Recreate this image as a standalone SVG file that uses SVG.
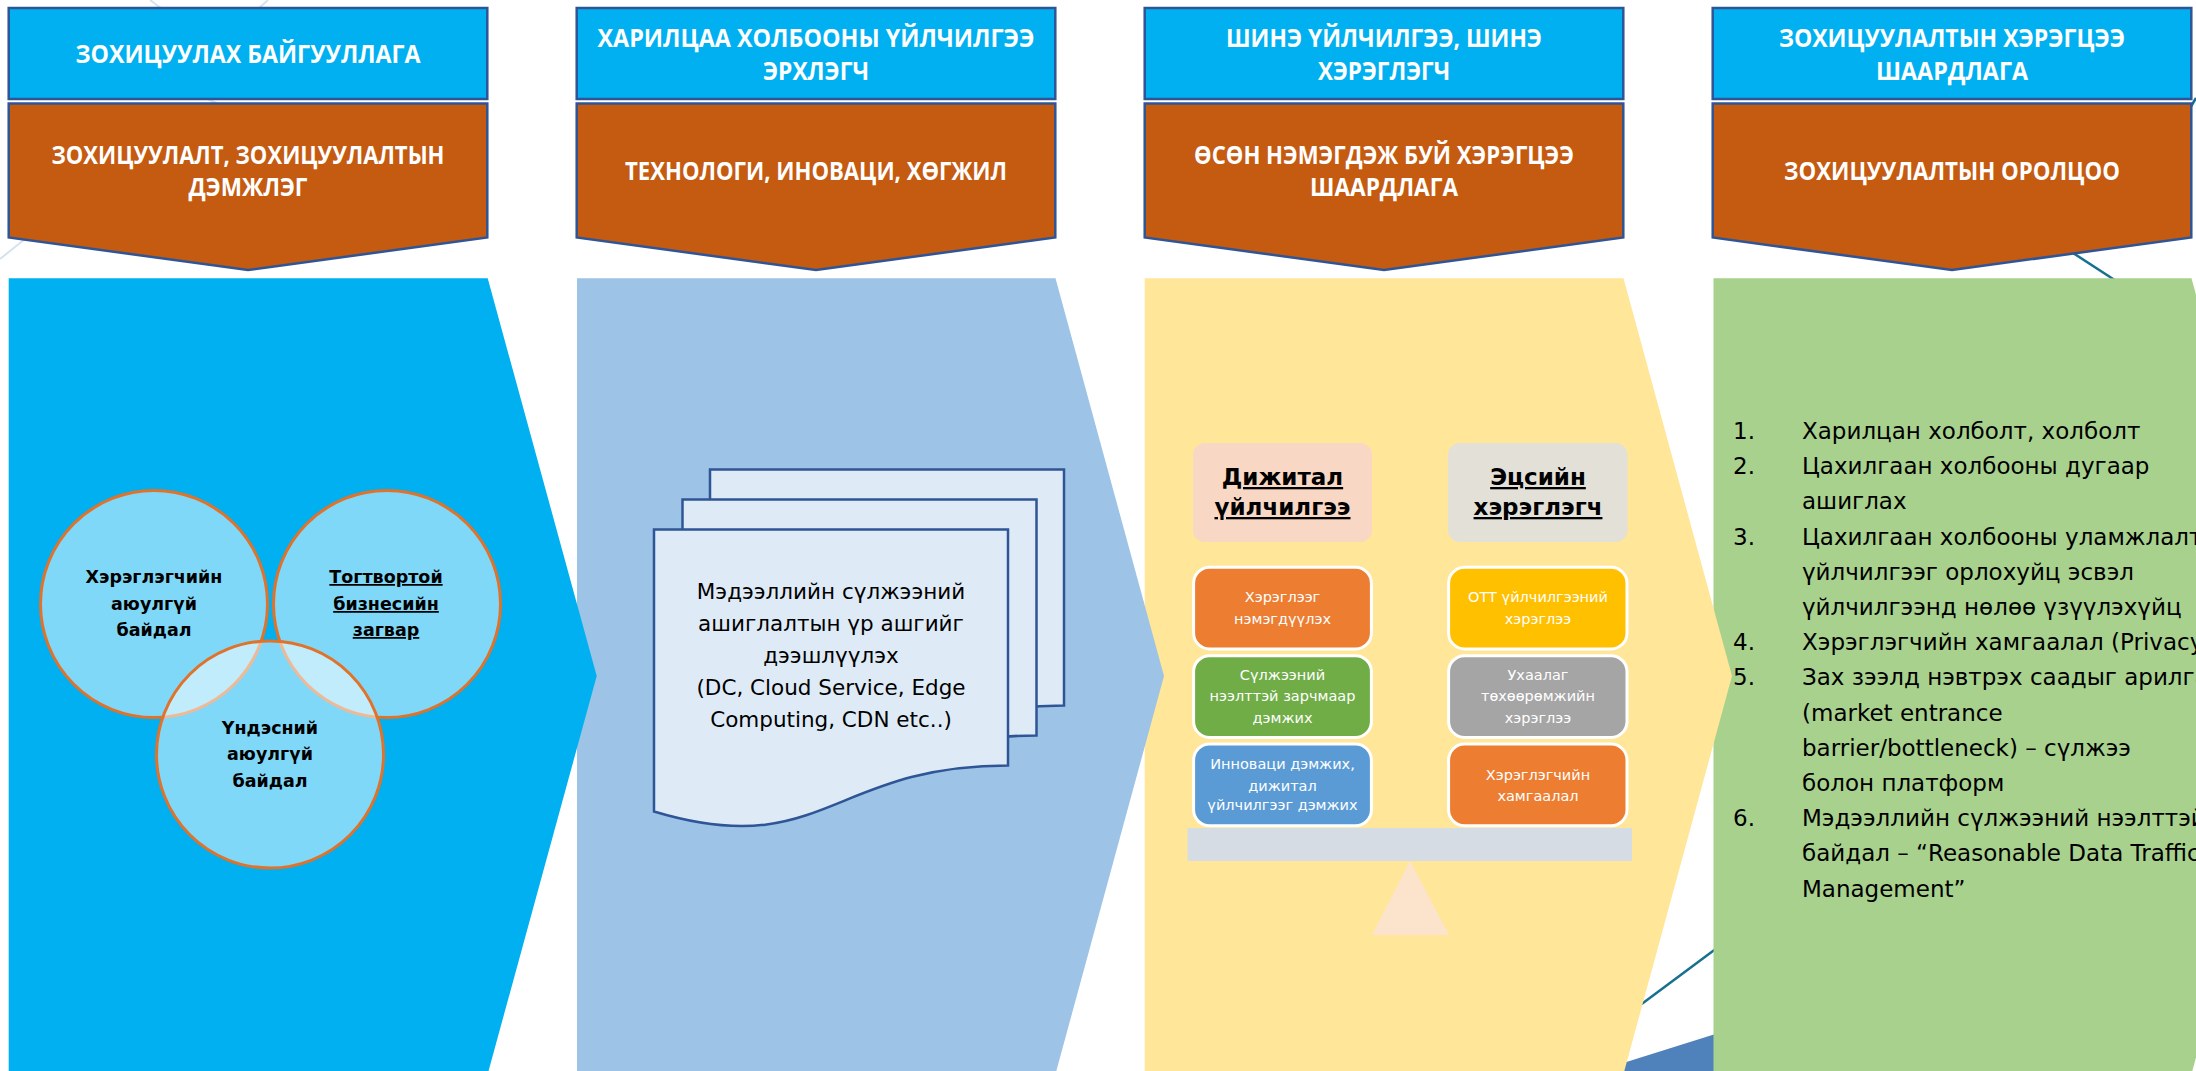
<svg xmlns="http://www.w3.org/2000/svg" xmlns:xlink="http://www.w3.org/1999/xlink" width="2196" height="1071" viewBox="0 0 2196 1071">
<style>
.hdr{fill:#00B0F0;stroke:#2F5597;stroke-width:2.5}
.brn{fill:#C55A11;stroke:#2F5597;stroke-width:2.5}
.ht{font-family:"Open Sans","Liberation Sans",sans-serif;font-weight:700;font-size:25px;fill:#FFFFFF;text-anchor:middle}
.ct{font-family:"DejaVu Sans",sans-serif;font-weight:700;font-size:17.5px;fill:#000000;text-anchor:middle}
.circ{fill:#FFFFFF;fill-opacity:0.5;stroke:#E0722A;stroke-width:3}
.doc{fill:#DEEBF7;stroke:#2F5597;stroke-width:2.5}
.dt{font-family:"DejaVu Sans",sans-serif;font-size:21.5px;fill:#000000;text-anchor:middle}
.tt{font-family:"DejaVu Sans",sans-serif;font-weight:700;font-size:23px;fill:#000000;text-anchor:middle;text-decoration:underline}
.bx{stroke:#FFFFFF;stroke-width:3}
.bt{font-family:"DejaVu Sans",sans-serif;font-size:14.5px;fill:#FFFFFF;text-anchor:middle}
.lt{font-family:"DejaVu Sans",sans-serif;font-size:23px;fill:#000000}
.deco{fill:none;stroke:#D5E3EE;stroke-width:2}
.teal{fill:none;stroke:#17708F;stroke-width:2.5}
</style>
<defs>
<path id="docshape" d="M654,529.5 H1008 V765.5 C831,765.5 822,862 654,811.5 Z"/>
</defs>
<rect x="0" y="0" width="2196" height="1071" fill="#FFFFFF"/>
<g id="background">
<line class="deco" x1="150" y1="0" x2="162" y2="9"/>
<line class="deco" x1="268" y1="0" x2="258" y2="9"/>
<line class="deco" x1="0" y1="259" x2="30" y2="235"/>
<line class="deco" x1="208" y1="99" x2="218" y2="104"/>
<line class="teal" x1="2030" y1="225" x2="2130" y2="290"/>
<line class="teal" x1="2186" y1="115" x2="2196" y2="98"/>
<line class="teal" x1="1600" y1="1035" x2="1760" y2="916"/>
<polygon points="1550,1086 1760,1020 1760,1100 1550,1100" fill="#4F81BA"/>
</g>
<g id="headers">
<g id="header1">
<rect class="hdr" x="8.7" y="8" width="478.6" height="91"/>
<text class="ht" x="248" y="63" textLength="345" lengthAdjust="spacingAndGlyphs">ЗОХИЦУУЛАХ БАЙГУУЛЛАГА</text>
</g>
<g id="header2">
<rect class="hdr" x="576.7" y="8" width="478.6" height="91"/>
<text class="ht" x="816" y="46.5" textLength="437" lengthAdjust="spacingAndGlyphs">ХАРИЛЦАА ХОЛБООНЫ ҮЙЛЧИЛГЭЭ</text>
<text class="ht" x="816" y="80" textLength="106" lengthAdjust="spacingAndGlyphs">ЭРХЛЭГЧ</text>
</g>
<g id="header3">
<rect class="hdr" x="1144.7" y="8" width="478.6" height="91"/>
<text class="ht" x="1384" y="46.5" textLength="316" lengthAdjust="spacingAndGlyphs">ШИНЭ ҮЙЛЧИЛГЭЭ, ШИНЭ</text>
<text class="ht" x="1384" y="80" textLength="132" lengthAdjust="spacingAndGlyphs">ХЭРЭГЛЭГЧ</text>
</g>
<g id="header4">
<rect class="hdr" x="1712.7" y="8" width="478.6" height="91"/>
<text class="ht" x="1952" y="46.5" textLength="346" lengthAdjust="spacingAndGlyphs">ЗОХИЦУУЛАЛТЫН ХЭРЭГЦЭЭ</text>
<text class="ht" x="1952" y="80" textLength="152" lengthAdjust="spacingAndGlyphs">ШААРДЛАГА</text>
</g>
<g id="sub1">
<polygon class="brn" points="8.7,103.5 487.3,103.5 487.3,237.5 248,270 8.7,237.5"/>
<text class="ht" x="248" y="164" textLength="393" lengthAdjust="spacingAndGlyphs">ЗОХИЦУУЛАЛТ, ЗОХИЦУУЛАЛТЫН</text>
<text class="ht" x="248" y="196" textLength="119" lengthAdjust="spacingAndGlyphs">ДЭМЖЛЭГ</text>
</g>
<g id="sub2">
<polygon class="brn" points="576.7,103.5 1055.3,103.5 1055.3,237.5 816,270 576.7,237.5"/>
<text class="ht" x="816" y="180" textLength="382" lengthAdjust="spacingAndGlyphs">ТЕХНОЛОГИ, ИНОВАЦИ, ХӨГЖИЛ</text>
</g>
<g id="sub3">
<polygon class="brn" points="1144.7,103.5 1623.3,103.5 1623.3,237.5 1384,270 1144.7,237.5"/>
<text class="ht" x="1384" y="164" textLength="380" lengthAdjust="spacingAndGlyphs">ӨСӨН НЭМЭГДЭЖ БУЙ ХЭРЭГЦЭЭ</text>
<text class="ht" x="1384" y="196" textLength="148" lengthAdjust="spacingAndGlyphs">ШААРДЛАГА</text>
</g>
<g id="sub4">
<polygon class="brn" points="1712.7,103.5 2191.3,103.5 2191.3,237.5 1952,270 1712.7,237.5"/>
<text class="ht" x="1952" y="180" textLength="336" lengthAdjust="spacingAndGlyphs">ЗОХИЦУУЛАЛТЫН ОРОЛЦОО</text>
</g>
</g>
<g id="panels">
<polygon id="panel4" points="1713.5,278.3 2191.5,278.3 2300,676 2191.5,1074 1713.5,1074" fill="#A9D18E"/>
<polygon id="panel3" points="1144.7,278.3 1623.5,278.3 1732,676 1623.5,1074 1144.7,1074" fill="#FFE699"/>
<polygon id="panel2" points="577,278.3 1055.5,278.3 1164,676 1055.5,1074 577,1074" fill="#9DC3E6"/>
<polygon id="panel1" points="8.7,278.3 487.7,278.3 596.7,676 487.7,1074 8.7,1074" fill="#00B0F0"/>
</g>
<g id="venn">
<g id="circle1">
<circle class="circ" cx="154" cy="604" r="113.5"/>
</g>
<g id="circle2">
<circle class="circ" cx="387" cy="604" r="113.5"/>
</g>
<g id="circle3">
<circle class="circ" cx="270" cy="754.5" r="113.5"/>
</g>
<text class="ct" x="154" y="583">Хэрэглэгчийн</text>
<text class="ct" x="154" y="610">аюулгүй</text>
<text class="ct" x="154" y="636">байдал</text>
<text class="ct" x="386" y="583" text-decoration="underline">Тогтвортой</text>
<text class="ct" x="386" y="610" text-decoration="underline">бизнесийн</text>
<text class="ct" x="386" y="636" text-decoration="underline">загвар</text>
<text class="ct" x="270" y="734">Үндэсний</text>
<text class="ct" x="270" y="760">аюулгүй</text>
<text class="ct" x="270" y="787">байдал</text>
</g>
<g id="document">
<use xlink:href="#docshape" href="#docshape" class="doc" transform="translate(56,-60)"/>
<use xlink:href="#docshape" href="#docshape" class="doc" transform="translate(28.5,-30)"/>
<use xlink:href="#docshape" href="#docshape" class="doc"/>
<text class="dt" x="831" y="599">Мэдээллийн сүлжээний</text>
<text class="dt" x="831" y="631">ашиглалтын үр ашгийг</text>
<text class="dt" x="831" y="663">дээшлүүлэх</text>
<text class="dt" x="831" y="695">(DC, Cloud Service, Edge</text>
<text class="dt" x="831" y="727">Computing, CDN etc..)</text>
</g>
<g id="balance">
<g id="title-left">
<rect x="1193" y="443" width="179" height="99" rx="12" fill="#F8D7C4"/>
<text class="tt" x="1282.5" y="485">Дижитал</text>
<text class="tt" x="1282.5" y="515">үйлчилгээ</text>
</g>
<g id="title-right">
<rect x="1448" y="443" width="179.5" height="99" rx="12" fill="#E3E0D8"/>
<text class="tt" x="1538" y="485">Эцсийн</text>
<text class="tt" x="1538" y="515">хэрэглэгч</text>
</g>
<g id="box-l1">
<rect class="bx" x="1193.6" y="567.3" width="177.8" height="81.7" rx="16" fill="#ED7D31"/>
<text class="bt" x="1282.5" y="602">Хэрэглээг</text>
<text class="bt" x="1282.5" y="624">нэмэгдүүлэх</text>
</g>
<g id="box-l2">
<rect class="bx" x="1193.6" y="655.7" width="177.8" height="81.7" rx="16" fill="#70AD47"/>
<text class="bt" x="1282.5" y="680">Сүлжээний</text>
<text class="bt" x="1282.5" y="701">нээлттэй зарчмаар</text>
<text class="bt" x="1282.5" y="722.5">дэмжих</text>
</g>
<g id="box-l3">
<rect class="bx" x="1193.6" y="744" width="177.8" height="81.8" rx="16" fill="#5B9BD5"/>
<text class="bt" x="1282.5" y="769">Инноваци дэмжих,</text>
<text class="bt" x="1282.5" y="790.5">дижитал</text>
<text class="bt" x="1282.5" y="810">үйлчилгээг дэмжих</text>
</g>
<g id="box-r1">
<rect class="bx" x="1448.6" y="567.3" width="178.4" height="81.7" rx="16" fill="#FFC000"/>
<text class="bt" x="1538" y="602">OTT үйлчилгээний</text>
<text class="bt" x="1538" y="624">хэрэглээ</text>
</g>
<g id="box-r2">
<rect class="bx" x="1448.6" y="655.7" width="178.4" height="81.7" rx="16" fill="#A5A5A5"/>
<text class="bt" x="1538" y="680">Ухаалаг</text>
<text class="bt" x="1538" y="701">төхөөрөмжийн</text>
<text class="bt" x="1538" y="722.5">хэрэглээ</text>
</g>
<g id="box-r3">
<rect class="bx" x="1448.6" y="744" width="178.4" height="81.8" rx="16" fill="#ED7D31"/>
<text class="bt" x="1538" y="779.7">Хэрэглэгчийн</text>
<text class="bt" x="1538" y="800.6">хамгаалал</text>
</g>
<g id="beam">
<rect x="1187.5" y="828" width="444.5" height="33" fill="#D6DCE4"/>
<polygon points="1410,861 1449,935 1372,935" fill="#FCE4CC"/>
</g>
</g>
<g id="list">
<text class="lt" x="1733" y="439">1.</text>
<text class="lt" x="1733" y="474.2">2.</text>
<text class="lt" x="1733" y="544.6">3.</text>
<text class="lt" x="1733" y="650.2">4.</text>
<text class="lt" x="1733" y="685.4">5.</text>
<text class="lt" x="1733" y="826.2">6.</text>
<text class="lt" x="1802" y="439">Харилцан холболт, холболт</text>
<text class="lt" x="1802" y="474.2">Цахилгаан холбооны дугаар</text>
<text class="lt" x="1802" y="509.4">ашиглах</text>
<text class="lt" x="1802" y="544.6">Цахилгаан холбооны уламжлалт</text>
<text class="lt" x="1802" y="579.8">үйлчилгээг орлохуйц эсвэл</text>
<text class="lt" x="1802" y="615">үйлчилгээнд нөлөө үзүүлэхүйц</text>
<text class="lt" x="1802" y="650.2">Хэрэглэгчийн хамгаалал (Privacy)</text>
<text class="lt" x="1802" y="685.4">Зах зээлд нэвтрэх саадыг арилгах</text>
<text class="lt" x="1802" y="720.6">(market entrance</text>
<text class="lt" x="1802" y="755.8">barrier/bottleneck) – сүлжээ</text>
<text class="lt" x="1802" y="791">болон платформ</text>
<text class="lt" x="1802" y="826.2">Мэдээллийн сүлжээний нээлттэй</text>
<text class="lt" x="1802" y="861.4">байдал – “Reasonable Data Traffic</text>
<text class="lt" x="1802" y="896.6">Management”</text>
</g>
</svg>
